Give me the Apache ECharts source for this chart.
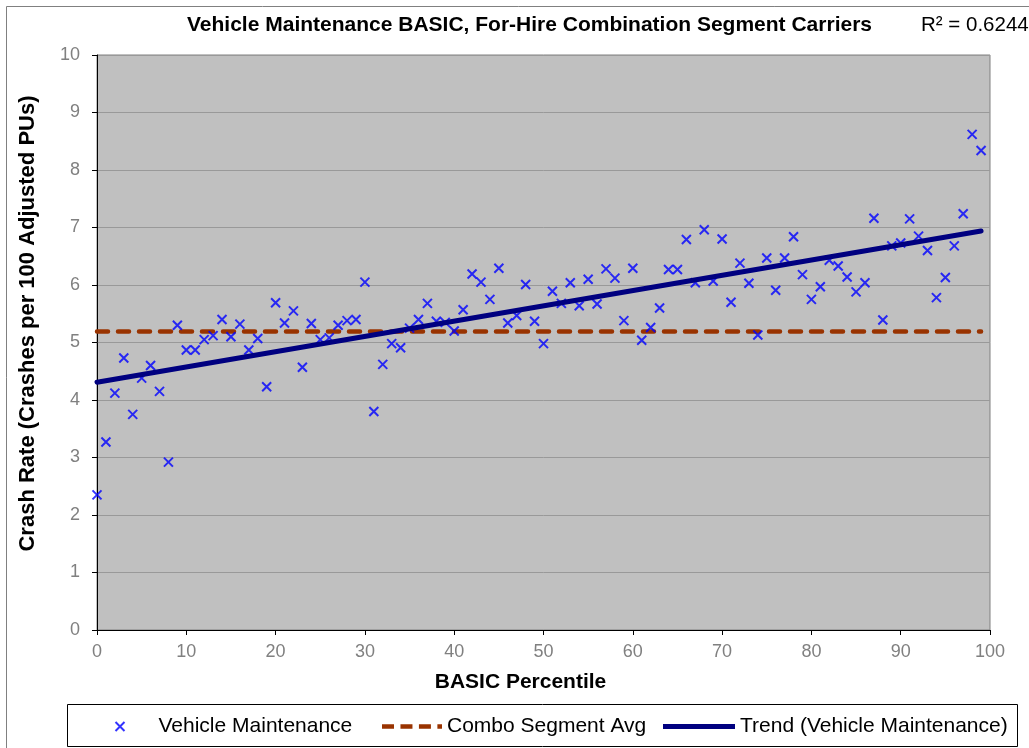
<!DOCTYPE html>
<html>
<head>
<meta charset="utf-8">
<script src="https://cdn.jsdelivr.net/npm/echarts@6/dist/echarts.min.js"></script>
<style>
html, body { margin: 0; padding: 0; background: #fff; }
#chart { width: 1029px; height: 748px; }
</style>
</head>
<body>
<div id="chart"></div>
<script>
// percentile 0..99
var percentiles = [];
for (var i = 0; i < 100; i++) percentiles.push(i);

// crash rates
var crashRates = [
	2.35, 3.27, 4.12, 4.73, 3.75, 4.38, 4.60, 4.15, 2.92, 5.30,
	4.87, 4.87, 5.05, 5.12, 5.40, 5.10, 5.32, 4.87, 5.07, 4.23,
	5.69, 5.34, 5.55, 4.57, 5.33, 5.05, 5.08, 5.30, 5.38, 5.40,
	6.05, 3.80, 4.62, 4.98, 4.91, 5.25, 5.40, 5.68, 5.37, 5.35,
	5.20, 5.57, 6.19, 6.05, 5.75, 6.29, 5.34, 5.47, 6.01, 5.37,
	4.98, 5.89, 5.68, 6.04, 5.64, 6.10, 5.67, 6.28, 6.12, 5.38,
	6.29, 5.04, 5.26, 5.60, 6.27, 6.27, 6.79, 6.04, 6.96, 6.07,
	6.80, 5.70, 6.38, 6.03, 5.13, 6.47, 5.91, 6.47, 6.84, 6.18,
	5.75, 5.97, 6.43, 6.33, 6.14, 5.88, 6.04, 7.16, 5.39, 6.68,
	6.73, 7.15, 6.85, 6.60, 5.78, 6.13, 6.68, 7.24, 8.62, 8.34
];

// combo segment average (flat line) and trend end points
var avgX = [0, 99];
var avgY = [5.19, 5.19];
var trendX = [0, 99];
var trendY = [4.31, 6.94];

var font = 'Liberation Sans, Arial, sans-serif';

function pairs(xs, ys) {
	var out = [];
	for (var i = 0; i < xs.length; i++) out.push([xs[i], ys[i]]);
	return out;
}

// 图例文字样式
var legendText = { fontFamily: font, fontSize: 21, color: '#000' };

var myChart = echarts.init(document.getElementById('chart'));

var option = {
	backgroundColor: '#fff',
	animation: false,
	textStyle: { fontFamily: font },
	title: [{
		text: 'Vehicle Maintenance BASIC, For-Hire Combination Segment Carriers',
		left: 182, top: 10,
		textStyle: { fontFamily: font, fontSize: 21, fontWeight: 'bold', color: '#000' }
	}, {
		text: 'R² = 0.6244',
		left: 916, top: 10,
		textStyle: { fontFamily: font, fontSize: 20.5, fontWeight: 'normal', color: '#000' }
	}],
	graphic: [{
		type: 'rect', silent: true, z: -1,
		shape: { x: 6.5, y: 6.5, width: 1040, height: 760 },
		style: { fill: 'none', stroke: '#808080', lineWidth: 1 }
	}, {
		type: 'rect', silent: true, z: -1,
		shape: { x: 67.5, y: 704.5, width: 950, height: 42 },
		style: { fill: '#fff', stroke: '#000', lineWidth: 1 }
	}],
	grid: {
		left: 97, right: 39, top: 55, bottom: 118,
		show: true, backgroundColor: '#c0c0c0', borderColor: '#808080', borderWidth: 1
	},
	legend: [{
		left: 108, top: 711,
		itemWidth: 9, itemHeight: 9,
		textStyle: { fontFamily: font, fontSize: 21, color: '#000', padding: [0, 0, 0, 29] },
		data: ['Vehicle Maintenance']
	}, {
		left: 377, top: 711,
		itemWidth: 60, itemHeight: 5,
		textStyle: legendText,
		data: [{
			name: 'Combo Segment Avg',
			icon: 'path://M0,0H13V5H0Z M20,0H33V5H20Z M40,0H53V5H40Z M60,0H65V5H60Z',
			itemStyle: { color: '#993300' }
		}]
	}, {
		left: 658, top: 711,
		itemWidth: 72, itemHeight: 5,
		textStyle: legendText,
		data: [{
			name: 'Trend (Vehicle Maintenance)',
			icon: 'path://M0,0H72V5H0Z',
			itemStyle: { color: '#000080' }
		}]
	}],
	xAxis: {
		type: 'value', min: 0, max: 100, interval: 10,
		name: 'BASIC Percentile', nameLocation: 'middle', nameGap: 42,
		nameTextStyle: { fontFamily: font, fontSize: 21, fontWeight: 'bold', color: '#000', padding: [0, 46, 0, 0] },
		axisLine: { onZero: false, lineStyle: { color: '#000', width: 1 } },
		axisTick: { show: true, inside: false, length: 5, lineStyle: { color: '#000' } },
		axisLabel: { fontFamily: font, fontSize: 18, color: '#808080', margin: 13 },
		splitLine: { show: false }
	},
	yAxis: {
		type: 'value', min: 0, max: 10, interval: 1,
		name: 'Crash Rate (Crashes per 100 Adjusted PUs)', nameLocation: 'middle', nameGap: 58,
		nameTextStyle: { fontFamily: font, fontSize: 22, fontWeight: 'bold', color: '#000', padding: [0, 0, 0, 38] },
		axisLine: { show: true, lineStyle: { color: '#000', width: 1 } },
		axisTick: { show: true, inside: false, length: 5, lineStyle: { color: '#000' } },
		axisLabel: { fontFamily: font, fontSize: 18, color: '#808080', margin: 17 },
		splitLine: { show: true, lineStyle: { color: '#999', width: 1 } }
	},
	series: [{
		name: 'Vehicle Maintenance',
		type: 'scatter',
		symbol: 'path://M0,0L10,10M10,0L0,10',
		symbolSize: 9,
		itemStyle: { color: 'none', borderColor: '#0000ff', borderWidth: 2 },
		data: pairs(percentiles, crashRates),
		z: 3
	}, {
		name: 'Combo Segment Avg',
		type: 'line',
		symbol: 'none',
		lineStyle: { color: '#993300', width: 4.5, type: [11, 10], cap: 'round' },
		itemStyle: { color: '#993300' },
		data: pairs(avgX, avgY),
		z: 2
	}, {
		name: 'Trend (Vehicle Maintenance)',
		type: 'line',
		symbol: 'none',
		lineStyle: { color: '#000080', width: 5, cap: 'round' },
		itemStyle: { color: '#000080' },
		data: pairs(trendX, trendY),
		z: 4
	}]
};

myChart.setOption(option);
</script>
</body>
</html>
